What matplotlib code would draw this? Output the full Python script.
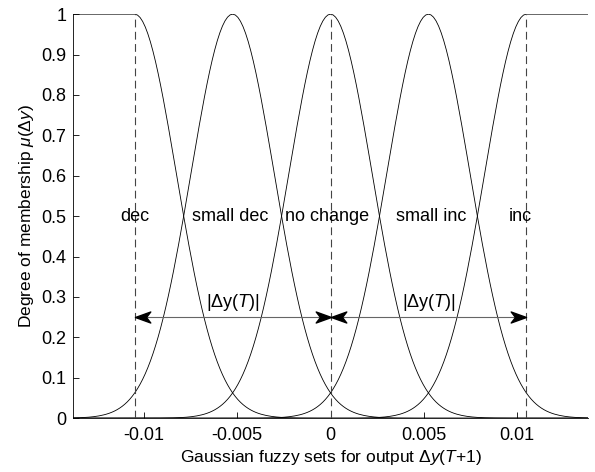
import numpy as np
import matplotlib.pyplot as plt
from matplotlib.path import Path

plt.rcParams['font.family'] = ['Liberation Sans', 'DejaVu Sans']
plt.rcParams['mathtext.fontset'] = 'custom'
plt.rcParams['mathtext.rm'] = 'Liberation Sans'
plt.rcParams['mathtext.it'] = 'Liberation Sans:italic'

# Gaussian fuzzy sets
set_names = ['dec', 'small dec', 'no change', 'small inc', 'inc']
centers = [-0.0105, -0.00525, 0.0, 0.00525, 0.0105]
sigma = 0.00223
label_x = [-0.0105, -0.0054, -0.0002, 0.0054, 0.0102]
label_y = 0.5
dashed_x = [-0.0105, 0.0, 0.0105]
arrow_y = 0.25
arrow_spans = [(-0.0105, 0.0), (0.0, 0.0105)]
arrow_text_y = 0.287

xlim = (-0.0138, 0.0138)
x = np.linspace(xlim[0], xlim[1], 201)

fig = plt.figure(figsize=(5.95, 4.72), dpi=100)
ax = fig.add_axes([0.123, 0.114, 0.865, 0.856])

for i, c in enumerate(centers):
    mu = np.exp(-(x - c) ** 2 / (2 * sigma ** 2))
    if i == 0:
        mu[x < c] = 1.0
    elif i == len(centers) - 1:
        mu[x > c] = 1.0
    ax.plot(x, mu, color='black', linewidth=0.6)

for xd in dashed_x:
    ax.plot([xd, xd], [0, 1], color='#444444', linestyle=(0, (7, 4)), linewidth=0.8)

for name, lx in zip(set_names, label_x):
    ax.text(lx, label_y, name, ha='center', va='center', fontsize=13)

# notched arrow head, tip at origin pointing right
head = Path([(0, 0), (-1, 0.36), (-0.72, 0), (-1, -0.36), (0, 0)],
            [Path.MOVETO, Path.LINETO, Path.LINETO, Path.LINETO, Path.CLOSEPOLY])
head_left = Path([(0, 0), (1, 0.36), (0.72, 0), (1, -0.36), (0, 0)],
                 [Path.MOVETO, Path.LINETO, Path.LINETO, Path.LINETO, Path.CLOSEPOLY])
for x0, x1 in arrow_spans:
    ax.plot([x0, x1], [arrow_y, arrow_y], color='#666666', linewidth=0.8)
    ax.plot([x0], [arrow_y], marker=head_left, markersize=22, color='black', linestyle='none')
    ax.plot([x1], [arrow_y], marker=head, markersize=22, color='black', linestyle='none')
    ax.text((x0 + x1) / 2, arrow_text_y, r'$|\Delta\mathrm{y}(T)|$', ha='center',
            va='center', fontsize=13)

ax.set_xlim(xlim)
ax.set_ylim(0, 1)
ax.set_xticks([-0.01, -0.005, 0, 0.005, 0.01])
ax.set_xticklabels(['-0.01', '-0.005', '0', '0.005', '0.01'])
ax.set_yticks(np.arange(0, 1.01, 0.1))
ax.set_yticklabels(['0', '0.1', '0.2', '0.3', '0.4', '0.5', '0.6', '0.7', '0.8', '0.9', '1'])
ax.tick_params(direction='in', length=4, labelsize=13, width=0.6)
ax.tick_params(axis='x', pad=6)
ax.tick_params(axis='y', pad=5)
ax.spines['top'].set_visible(False)
ax.spines['right'].set_visible(False)
ax.spines['left'].set_linewidth(0.6)
ax.spines['bottom'].set_linewidth(0.6)

ax.set_xlabel(r'Gaussian fuzzy sets for output $\Delta y(T$+1)', fontsize=12.5, labelpad=3)
ax.set_ylabel(r'Degree of membership $\mu(\Delta y)$', fontsize=12.5, labelpad=4)

fig.savefig('out.png', dpi=100)
